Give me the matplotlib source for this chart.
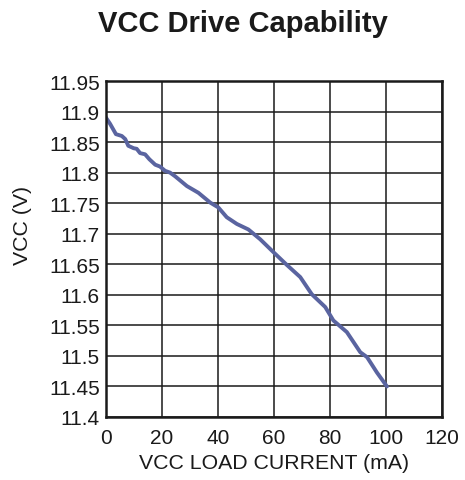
import numpy as np
import matplotlib.pyplot as plt

plt.rcParams['font.family'] = ['Liberation Sans', 'DejaVu Sans']

# load current (mA) and VCC (V)
load_ma = [0, 1.6, 3.7, 5.8, 7.0, 8.1, 10.0, 11.1, 12.3, 14.1, 15.6, 17.7, 19.4,
           21.2, 23.0, 24.8, 29.0, 33.1, 37.3, 40.2, 43.2, 46.8, 50.9, 55.1,
           59.8, 64.6, 69.4, 73.5, 78.3, 81.2, 86.0, 90.8, 93.2, 96.7, 100.3]
vcc_v = [11.891, 11.880, 11.863, 11.860, 11.855, 11.844, 11.840, 11.839, 11.832,
         11.830, 11.822, 11.813, 11.810, 11.803, 11.800, 11.794, 11.778, 11.767,
         11.751, 11.743, 11.727, 11.716, 11.707, 11.691, 11.670, 11.649, 11.629,
         11.601, 11.580, 11.558, 11.539, 11.506, 11.498, 11.473, 11.450]

x_ticks = [0, 20, 40, 60, 80, 100, 120]
y_ticks = [11.4, 11.45, 11.5, 11.55, 11.6, 11.65, 11.7, 11.75, 11.8, 11.85, 11.9, 11.95]
y_labels = ['11.4', '11.45', '11.5', '11.55', '11.6', '11.65', '11.7', '11.75',
            '11.8', '11.85', '11.9', '11.95']

fig = plt.figure(figsize=(4.65, 4.81), dpi=100)
ax = fig.add_axes([0.227, 0.131, 0.724, 0.6985])

ax.plot(load_ma, vcc_v, color='#5a64a0', lw=2.8, solid_capstyle='round')

ax.set_xlim(0, 120)
ax.set_ylim(11.4, 11.95)
ax.set_xticks(x_ticks)
ax.set_yticks(y_ticks)
ax.set_yticklabels(y_labels)
ax.grid(True, color='#1a1a1a', lw=1.1)
ax.set_axisbelow(True)
ax.tick_params(length=0, labelsize=15, colors='#1a1a1a')
ax.tick_params(axis='y', pad=4)
ax.tick_params(axis='x', pad=8)
for s in ax.spines.values():
    s.set_linewidth(1.8)
    s.set_color('#1a1a1a')

ax.set_xlabel('VCC LOAD CURRENT (mA)', fontsize=15.3, color='#1a1a1a', labelpad=4)
# y label sits above the axes centre in the reference
fig.text(22 / 465, 1 - 225 / 481, 'VCC (V)', rotation=90, ha='center', va='center',
         fontsize=15.3, color='#1a1a1a')

fig.text(243 / 465, 1 - 24 / 481, 'VCC Drive Capability', ha='center', va='center',
         fontsize=21, fontweight='bold', color='#1a1a1a')

fig.savefig('out.png', dpi=100)
